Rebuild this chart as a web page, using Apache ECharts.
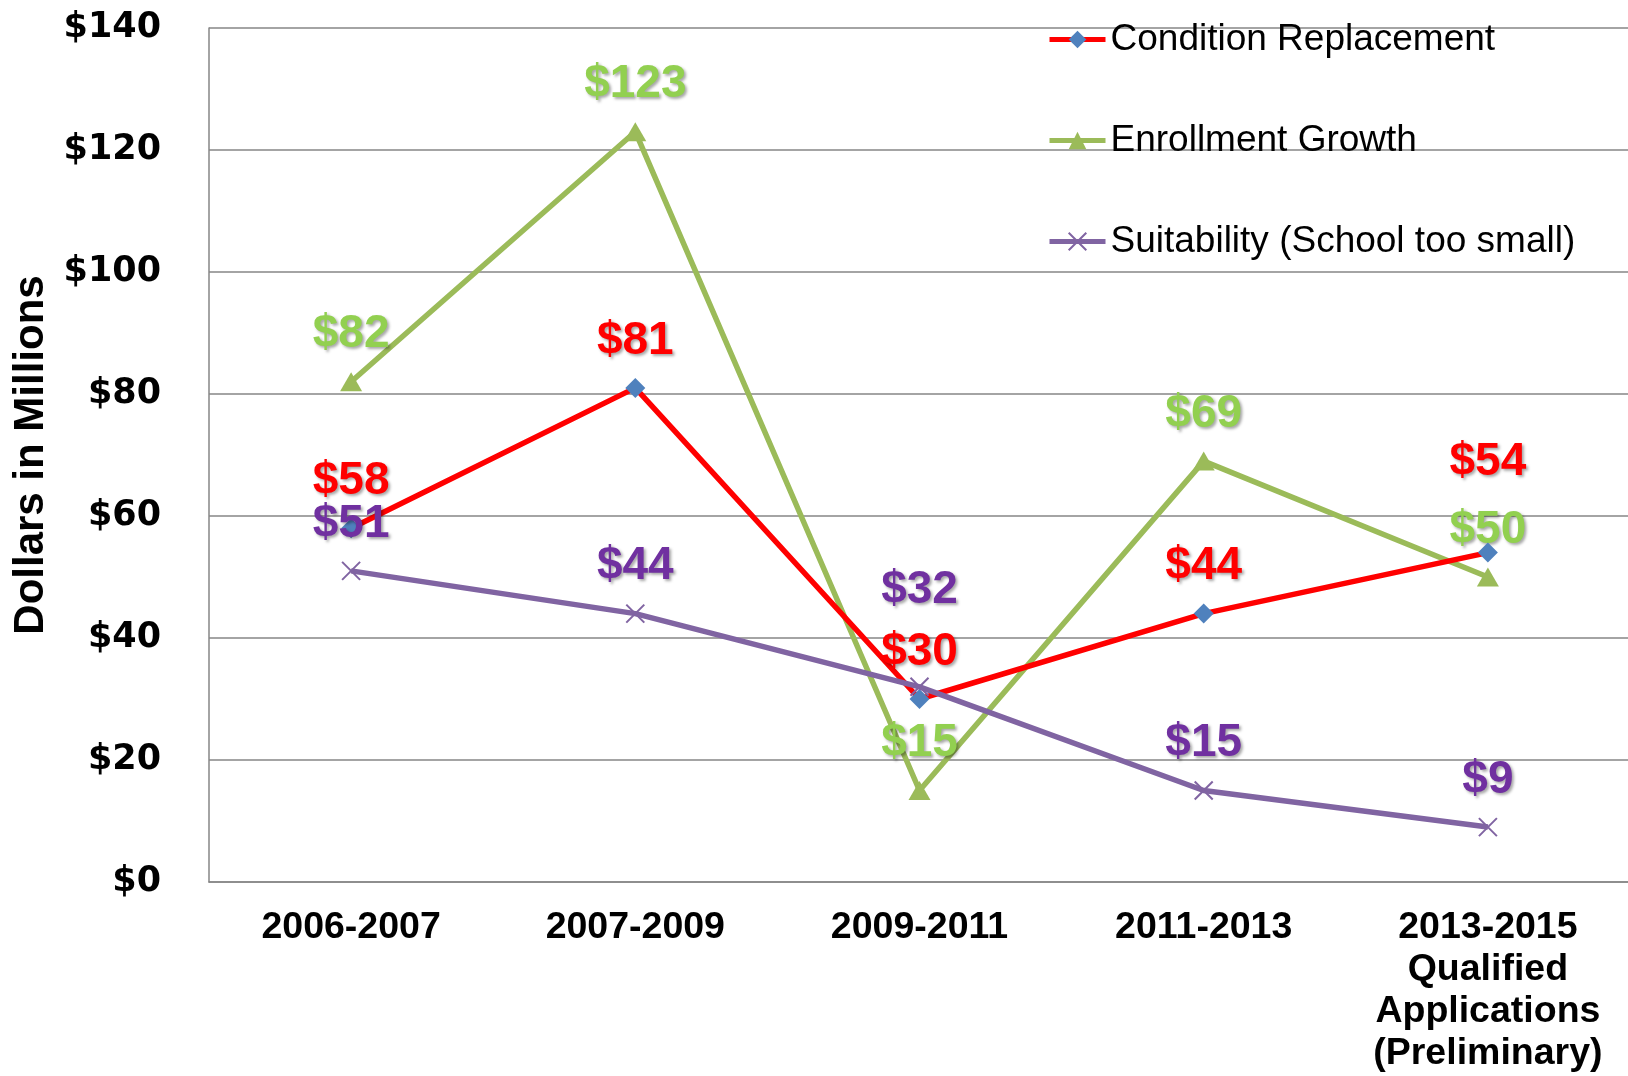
<!DOCTYPE html>
<html>
<head>
<meta charset="utf-8">
<script src="https://cdn.jsdelivr.net/npm/echarts@6/dist/echarts.min.js"></script>
<style>
  html, body { margin: 0; padding: 0; background: #fff; }
  #chart { width: 1628px; height: 1076px; }
</style>
</head>
<body>
<div id="chart"></div>
<script>
// data
let periods = ["2006-2007", "2007-2009", "2009-2011", "2011-2013", "2013-2015\nQualified\nApplications\n(Preliminary)"];
let conditionReplacement = [58, 81, 30, 44, 54];
let enrollmentGrowth = [82, 123, 15, 69, 50];
let suitability = [51, 44, 32, 15, 9];
let yTicks = [0, 20, 40, 60, 80, 100, 120, 140];

let labelBase = (color) => ({
    show: true,
    position: 'inside',
    offset: [0, -47],
    formatter: (p) => '$' + p.value,
    color: color,
    fontFamily: 'Liberation Sans, Arial, sans-serif',
    fontWeight: 'bold',
    fontSize: 46,
    textShadowColor: 'rgba(0,0,0,0.35)',
    textShadowBlur: 3,
    textShadowOffsetX: 2,
    textShadowOffsetY: 2
});

// a few labels sit higher to dodge their neighbours
let withOffsets = (values, offsets) => values.map((v, i) =>
    offsets[i] ? { value: v, label: { offset: offsets[i] } } : v);

let myChart = echarts.init(document.getElementById('chart'));

let option = {
    animation: false,
    backgroundColor: '#fff',
    grid: { left: 209, right: -2, top: 28, bottom: 194, outerBoundsMode: 'none' },
    legend: {
        orient: 'vertical',
        left: 1042,
        top: 16,
        itemWidth: 56,
        itemHeight: 22,
        itemGap: 64,
        lineStyle: { width: 5 },
        textStyle: {
            fontFamily: 'Liberation Sans, Arial, sans-serif',
            fontSize: 37,
            color: '#000'
        },
        data: ['Condition Replacement', 'Enrollment Growth', 'Suitability (School too small)']
    },
    xAxis: {
        type: 'category',
        data: periods,
        axisTick: { show: false },
        axisLine: { lineStyle: { color: '#868686', width: 1.5 } },
        axisLabel: {
            color: '#000',
            fontFamily: 'Liberation Sans, Arial, sans-serif',
            fontWeight: 'bold',
            fontSize: 37.5,
            lineHeight: 42,
            margin: 25,
            interval: 0
        }
    },
    yAxis: {
        type: 'value',
        min: yTicks[0],
        max: yTicks[yTicks.length - 1],
        interval: 20,
        name: 'Dollars in Millions',
        nameLocation: 'middle',
        nameGap: 146,
        nameTextStyle: {
            color: '#000',
            fontFamily: 'Liberation Sans Narrow, Liberation Sans, Arial, sans-serif',
            fontWeight: 'bold',
            fontSize: 42
        },
        axisLine: { show: true, lineStyle: { color: '#868686', width: 1.5 } },
        axisTick: { show: false },
        splitLine: { lineStyle: { color: '#868686', width: 1.5 } },
        axisLabel: {
            color: '#000',
            fontFamily: 'DejaVu Sans, Verdana, sans-serif',
            fontWeight: 'bold',
            fontSize: 35,
            margin: 48,
            formatter: (v) => '$' + v
        }
    },
    series: [
        {
            name: 'Condition Replacement',
            type: 'line',
            data: withOffsets(conditionReplacement, [null, null, null, null, [0, -90]]),
            symbol: 'diamond',
            symbolSize: 20,
            lineStyle: { color: '#FF0000', width: 5.5 },
            itemStyle: { color: '#4F81BD' },
            label: labelBase('#FF0000'),
            z: 3
        },
        {
            name: 'Enrollment Growth',
            type: 'line',
            data: enrollmentGrowth,
            symbol: 'triangle',
            symbolSize: [22, 19],
            lineStyle: { color: '#9BBB59', width: 5.5 },
            itemStyle: { color: '#9BBB59' },
            label: labelBase('#92D050'),
            z: 2
        },
        {
            name: 'Suitability (School too small)',
            type: 'line',
            data: withOffsets(suitability, [null, null, [0, -96], null, null]),
            symbol: 'path://M0,0L10,10M10,0L0,10',
            symbolSize: 18,
            lineStyle: { color: '#8064A2', width: 5.5 },
            itemStyle: { color: '#8064A2', borderColor: '#8064A2', borderWidth: 2 },
            label: labelBase('#7030A0'),
            z: 4
        }
    ]
};

myChart.setOption(option);
</script>
</body>
</html>
